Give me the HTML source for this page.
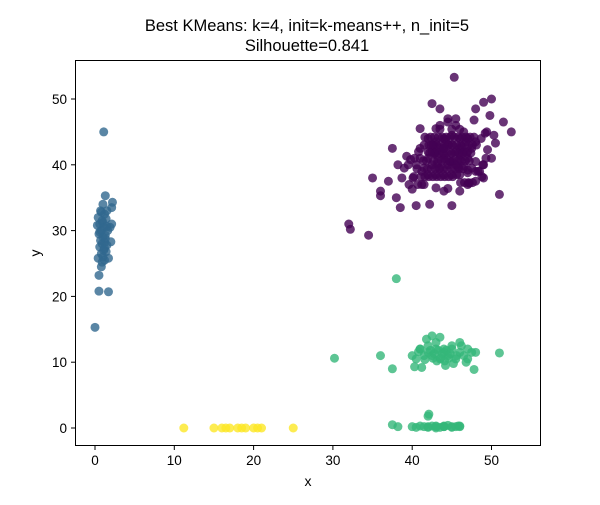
<!DOCTYPE html>
<html><head><meta charset="utf-8"><style>
body{margin:0;background:#fff;}
svg text{font-family:"Liberation Sans","DejaVu Sans",sans-serif;}
</style></head><body>
<svg id="chart" width="600" height="500" viewBox="0 0 600 500" xmlns="http://www.w3.org/2000/svg">
<rect width="600" height="500" fill="#fff"/>
<text x="307" y="31" font-size="16.5" text-anchor="middle">Best KMeans: k=4, init=k-means++, n_init=5</text>
<text x="307" y="51" font-size="16.5" text-anchor="middle">Silhouette=0.841</text>
<g id="marks"></g>
<g id="axes"></g>
<text x="308" y="486" font-size="14" text-anchor="middle">x</text>
<text x="40" y="253" font-size="14" text-anchor="middle" transform="rotate(-90 40 253)">y</text>
</svg>
<script>
const xTicks=[0,10,20,30,40,50];
const yTicks=[0,10,20,30,40,50];
const clusterColors=["#440154","#31688e","#35b779","#fde725"];
const purpleX=[45.3,48,49,42.5,43.5,50,52.5,51.5,32,32.2,34.5,35,36,36,37,38,38.5,40.5,42.2,45,40,47.8,49.8,50.3,49.4,48.7,41,40.3,39.5,38.7,39,41.5,43,44,46,47,48,49,50,43.5,44.5,45.5,46.5,42,41.5,43,44,45,46,47,48,42.5,43.5,44.5,45.5,46.5,47.5,41,42,43,44,45,46,47,48,49,40.5,41.5,42.5,43.5,44.5,45.5,46.5,47.5,48.5,42,43,44,45,46,47,48,41,42,43,44,45,46,47,44,45,46,43,44.5,45.5,47,39.8,40.8,48.8,49.5,42.8,46.2,44.2,45.8,43.2,47.2,41.2,39.3,38.2,37.5,50.5,49.2,51,44.8,46.8,42.7,
41.8,42.3,42.8,43.3,43.8,44.3,44.8,45.3,45.8,46.3,46.8,47.3,47.8,41.6,42.1,42.6,43.1,43.6,44.1,44.6,45.1,45.6,46.1,46.6,47.1,47.6,48.1,42.4,42.9,43.4,43.9,44.4,44.9,45.4,45.9,46.4,46.9,47.4,42.2,42.7,43.2,43.7,44.2,44.7,45.2,45.7,46.2,46.7,47.2,41.4,41.9,42.4,42.9,43.4,43.9,44.4,44.9,45.4,45.9,46.4,40.6,41.1,41.6,42.1,42.6,43.1,43.6,44.1,44.6,45.1,40.2,40.7,41.2,39.6,40.1,45.6,46.1,46.6,47.1,47.6,48.3,48.9,49.3,44,45,46,43.5,44.5];
const purpleY=[53.3,48.5,49.5,49.3,48.5,50,45,46.5,31,30.2,29.3,38,36,35.3,37.5,35,33.5,33.8,34,33.8,36.3,46.8,47.5,44.5,45,44,45.5,41,40,38,39.5,37,36.5,36,36,37,37.5,38,41,46,46.5,46,45,44,43,43.5,44,44.5,44,44,43.5,42,42.5,43,42,42,42.5,41,41,41.5,41,40.5,40.8,41,40.5,40,40,39.5,40,39.5,40,40,39.8,39.5,39,38.5,38.5,38.5,38.5,38.5,38.8,39,42.5,42,42,42.5,43,42.5,42,41.5,41.7,41.5,45.5,47,47,39.2,40.8,42,38.2,42.3,41.8,42.8,43.8,39.7,40.2,37.2,39,41.3,40,42.5,43.3,44.8,35.5,40.5,43.5,43,40.6,
44.2,44.2,44.2,44.2,44.2,44.2,44.2,44.2,44.2,44.2,44.2,44.2,44.2,43,43,43,43,43,43,43,43,43,43,43,43,43,43,41.8,41.8,41.8,41.8,41.8,41.8,41.8,41.8,41.8,41.8,41.8,40.6,40.6,40.6,40.6,40.6,40.6,40.6,40.6,40.6,40.6,40.6,39.4,39.4,39.4,39.4,39.4,39.4,39.4,39.4,39.4,39.4,39.4,38.2,38.2,38.2,38.2,38.2,38.2,38.2,38.2,38.2,38.2,37,37,37,38,38.5,37.3,37.3,37.3,37.3,39,40,41,42.5,45.4,45.4,45.4,36.4,36.4];
const blueX=[1.1,0,0.5,1.7,0.5,0.8,1.3,2.2,2.1,1.0,0.7,1.5,0.4,1.2,0.9,0.6,1.4,0.3,1.1,0.8,1.6,1.9,0.5,1.0,1.3,0.7,1.2,0.9,1.5,2.0,0.6,1.1,0.8,1.4,1.0,0.4,1.2,0.9,1.7,0.6,1.3,1.0,0.8,1.5,2.1,1.2];
const blueY=[45,15.3,20.8,20.7,23.2,24.5,35.3,34.3,33.5,34,33,33,32,32.5,31.5,31,31.8,30.8,30.5,30,30,30.5,29.5,29,29.3,28.5,28.2,28,27.8,28.3,27.5,27,26.5,26.8,26,25.8,25.5,25.2,25.8,29.8,28.8,31.2,32.8,30.6,31,27.3];
const greenX=[30.2,36,37.5,38,51,40,41,42,43,44,45,46,47,48,40.5,41.5,42.5,43.5,44.5,45.5,46.5,47.5,41,42,43,44,45,46,47,40.3,41.2,44.2,45.2,46.8,47.8,42.5,43.5,41.8,37.5,42,42.1,40,41,42,43,44,45,46,40.5,41.5,42.5,43.5,44.5,45.5,45.8,43,44,38.2,
42.3,42.8,43.3,43.8,44.3,44.8,42.6,43.1,43.6,44.1,44.6,41.6,45.6,46.2,40.8,42,43,44,45,46];
const greenY=[10.6,11,9,22.7,11.4,11,12,12.5,13,12,12.5,13,12,11.5,10.5,11,11,10.5,11,10.5,11,11.5,12,11.5,12,11.5,12,11.5,10.5,9.3,9.2,9.5,9.8,10,8.9,14,13.8,13.5,0.5,1.8,2.1,0.2,0.3,0.1,0.3,0.2,0.1,0.3,0.1,0.2,0.3,0.1,0.4,0.2,0.3,0,0.3,0.2,
11.8,11.3,11.8,11.3,11.8,11.3,10.6,10.2,10.6,10.2,10.6,10.4,11,12.5,11.6,0.2,0.2,0.2,0.2,0.2];
const yellowX=[11.2,15,16,16.5,17,18,18.5,19,20,20.5,21,25];
const yellowY=[0,0,0,0,0,0,0,0,0,0,0,0];
const X=v=>95+v*7.93, Y=v=>428-v*6.58;
const NS="http://www.w3.org/2000/svg";
const marks=document.getElementById('marks');
function draw(xs,ys,c,name){
  xs.forEach((x,i)=>{
    const e=document.createElementNS(NS,'circle');
    e.setAttribute('cx',X(x));e.setAttribute('cy',Y(ys[i]));e.setAttribute('r',4.5);
    e.setAttribute('fill',c);e.setAttribute('fill-opacity',0.8);
    
    
    marks.appendChild(e);
  });
}
draw(purpleX,purpleY,clusterColors[0],'cluster-0-point');
draw(blueX,blueY,clusterColors[1],'cluster-1-point');
draw(greenX,greenY,clusterColors[2],'cluster-2-point');
draw(yellowX,yellowY,clusterColors[3],'cluster-3-point');
const axes=document.getElementById('axes');
const frame=document.createElementNS(NS,'rect');
frame.setAttribute('x',75.5);frame.setAttribute('y',60.5);frame.setAttribute('width',465);frame.setAttribute('height',385);
frame.setAttribute('fill','none');frame.setAttribute('stroke','#000');frame.setAttribute('stroke-width',1);


axes.appendChild(frame);
xTicks.forEach(t=>{
  const l=document.createElementNS(NS,'line');
  l.setAttribute('x1',X(t));l.setAttribute('x2',X(t));l.setAttribute('y1',445.5);l.setAttribute('y2',450);l.setAttribute('stroke','#000');
  
  
  axes.appendChild(l);
  const tx=document.createElementNS(NS,'text');
  tx.setAttribute('x',X(t));tx.setAttribute('y',465);tx.setAttribute('font-size',13.5);tx.setAttribute('text-anchor','middle');
  tx.textContent=t;
  
  
  axes.appendChild(tx);
});
yTicks.forEach(t=>{
  const l=document.createElementNS(NS,'line');
  l.setAttribute('x1',71);l.setAttribute('x2',75.5);l.setAttribute('y1',Y(t));l.setAttribute('y2',Y(t));l.setAttribute('stroke','#000');
  
  
  axes.appendChild(l);
  const tx=document.createElementNS(NS,'text');
  tx.setAttribute('x',67);tx.setAttribute('y',Y(t)+5);tx.setAttribute('font-size',13.5);tx.setAttribute('text-anchor','end');
  tx.textContent=t;
  
  
  axes.appendChild(tx);
});
</script>
</body></html>
